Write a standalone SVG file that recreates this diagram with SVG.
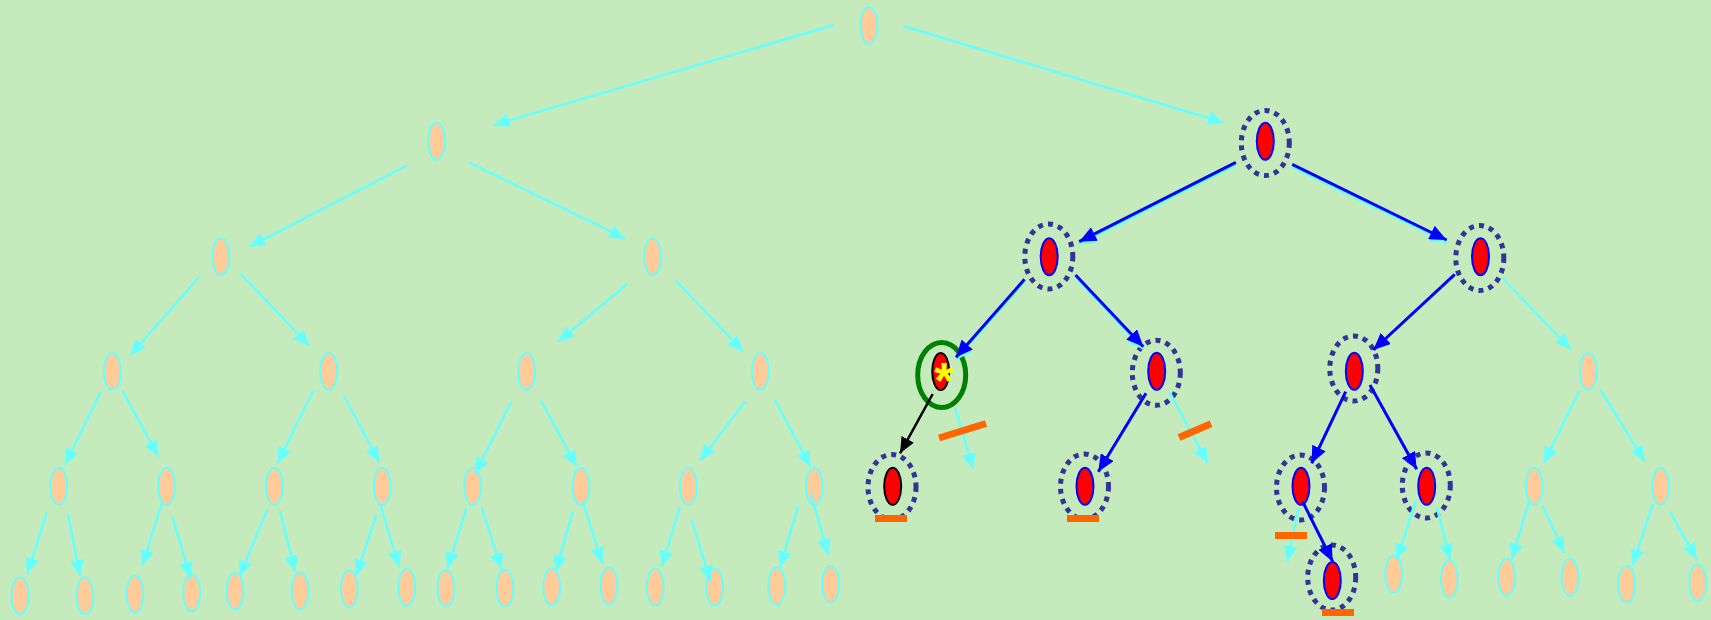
<svg xmlns="http://www.w3.org/2000/svg" width="1711" height="620" viewBox="0 0 1711 620">
<style>
.bg{fill:#c5ebbc}
.n{fill:#ffcc99;stroke:#66ffff;stroke-width:2}
.r{fill:#ff0000;stroke:#0000ff;stroke-width:2}
.rk{fill:#ff0000;stroke:#000000;stroke-width:2}
.ring{fill:none;stroke:#333399;stroke-width:5;stroke-dasharray:5 5.2}
.gring{fill:none;stroke:#008000;stroke-width:5}
.c{stroke:#66ffff;stroke-width:2.5;fill:none;marker-end:url(#ac)}
.b{stroke:#0000ff;stroke-width:3;fill:none;marker-end:url(#ab)}
.k{stroke:#000000;stroke-width:2.5;fill:none;marker-end:url(#ak)}
.bar{fill:#ff6600}
.barl{stroke:#ff6600;stroke-width:7}
.star{fill:#ffff00;font-family:"Liberation Sans",Arial,sans-serif;font-weight:bold;font-size:50px}
</style>
<defs>
<marker id="ac" markerUnits="userSpaceOnUse" markerWidth="16" markerHeight="14" refX="16" refY="7" orient="auto"><path d="M0,0 L16,7 L0,14 z" fill="#66ffff"/></marker>
<marker id="ab" markerUnits="userSpaceOnUse" markerWidth="17" markerHeight="15" refX="17" refY="7.5" orient="auto"><path d="M0,0 L17,7.5 L0,15 z" fill="#0000ff"/></marker>
<marker id="ak" markerUnits="userSpaceOnUse" markerWidth="16" markerHeight="14" refX="16" refY="7" orient="auto"><path d="M0,0 L16,7 L0,14 z" fill="#000000"/></marker>
</defs>
<rect class="bg" x="0" y="0" width="1711" height="620"/>

<g id="nodes">
<g id="n0"><ellipse class="n" cx="869" cy="25.5" rx="8.5" ry="18.5"/></g>
<g id="n1"><ellipse class="n" cx="436.7" cy="141.3" rx="8.5" ry="18.5"/></g>
<g id="n2"><ellipse class="r" cx="1265.3" cy="141.3" rx="8.5" ry="18.5"/><ellipse class="ring" cx="1265.3" cy="143" rx="24" ry="32.5"/></g>
<g id="n3"><ellipse class="n" cx="220.9" cy="256.7" rx="8.5" ry="18.5"/></g>
<g id="n4"><ellipse class="n" cx="652.6" cy="256.7" rx="8.5" ry="18.5"/></g>
<g id="n5"><ellipse class="r" cx="1049.2" cy="256.7" rx="8.5" ry="18.5"/><ellipse class="ring" cx="1048.8" cy="256.5" rx="24" ry="32.5"/></g>
<g id="n6"><ellipse class="r" cx="1480.5" cy="256.7" rx="8.5" ry="18.5"/><ellipse class="ring" cx="1479.8" cy="258" rx="24" ry="32.5"/></g>

<g id="n7"><ellipse class="n" cx="112.3" cy="371.3" rx="8.5" ry="18.5"/></g>
<g id="n8"><ellipse class="n" cx="328.7" cy="371.3" rx="8.5" ry="18.5"/></g>
<g id="n9"><ellipse class="n" cx="526.7" cy="371.3" rx="8.5" ry="18.5"/></g>
<g id="n10"><ellipse class="n" cx="760.3" cy="371.3" rx="8.5" ry="18.5"/></g>
<g id="n11"><ellipse class="rk" cx="940.7" cy="371.5" rx="8.5" ry="18.5"/><ellipse class="gring" cx="941.7" cy="375" rx="24" ry="32.5"/><text class="star" x="944" y="397.5" text-anchor="middle">*</text></g>
<g id="n12"><ellipse class="r" cx="1156.7" cy="371.3" rx="8.5" ry="18.5"/><ellipse class="ring" cx="1156.3" cy="372.8" rx="24" ry="32.5"/></g>
<g id="n13"><ellipse class="r" cx="1354.3" cy="371.3" rx="8.5" ry="18.5"/><ellipse class="ring" cx="1353.8" cy="368.5" rx="24" ry="32.5"/></g>
<g id="n14"><ellipse class="n" cx="1588.3" cy="371.3" rx="8.5" ry="18.5"/></g>

<g id="n15"><ellipse class="n" cx="58.7" cy="486.3" rx="8.5" ry="18.5"/></g>
<g id="n16"><ellipse class="n" cx="166.7" cy="486.3" rx="8.5" ry="18.5"/></g>
<g id="n17"><ellipse class="n" cx="274.3" cy="486.3" rx="8.5" ry="18.5"/></g>
<g id="n18"><ellipse class="n" cx="382.3" cy="486.3" rx="8.5" ry="18.5"/></g>
<g id="n19"><ellipse class="n" cx="472.7" cy="486.3" rx="8.5" ry="18.5"/></g>
<g id="n20"><ellipse class="n" cx="581" cy="486.3" rx="8.5" ry="18.5"/></g>
<g id="n21"><ellipse class="n" cx="688.3" cy="486.3" rx="8.5" ry="18.5"/></g>
<g id="n22"><ellipse class="n" cx="814.3" cy="486.3" rx="8.5" ry="18.5"/></g>
<g id="n23"><ellipse class="rk" cx="892.7" cy="486.3" rx="8.5" ry="18.5"/><ellipse class="ring" cx="892" cy="487" rx="24" ry="32.5"/></g>
<g id="n24"><ellipse class="r" cx="1085" cy="486.3" rx="8.5" ry="18.5"/><ellipse class="ring" cx="1084.5" cy="486.5" rx="24" ry="32.5"/></g>
<g id="n25"><ellipse class="r" cx="1301" cy="486.3" rx="8.5" ry="18.5"/><ellipse class="ring" cx="1300.5" cy="487.5" rx="24" ry="32.5"/></g>
<g id="n26"><ellipse class="r" cx="1426.7" cy="486.3" rx="8.5" ry="18.5"/><ellipse class="ring" cx="1426.3" cy="485.5" rx="24" ry="32.5"/></g>
<g id="n27"><ellipse class="n" cx="1534.3" cy="486.3" rx="8.5" ry="18.5"/></g>
<g id="n28"><ellipse class="n" cx="1660.7" cy="486.3" rx="8.5" ry="18.5"/></g>

<g id="n29"><ellipse class="n" cx="20" cy="595.7" rx="8.5" ry="18.5"/></g>
<g id="n30"><ellipse class="n" cx="85" cy="595.7" rx="8.5" ry="18.5"/></g>
<g id="n31"><ellipse class="n" cx="135" cy="594" rx="8.5" ry="18.5"/></g>
<g id="n32"><ellipse class="n" cx="191.7" cy="592.7" rx="8.5" ry="18.5"/></g>
<g id="n33"><ellipse class="n" cx="235" cy="591" rx="8.5" ry="18.5"/></g>
<g id="n34"><ellipse class="n" cx="300" cy="591" rx="8.5" ry="18.5"/></g>
<g id="n35"><ellipse class="n" cx="349.3" cy="589" rx="8.5" ry="18.5"/></g>
<g id="n36"><ellipse class="n" cx="406.7" cy="587.3" rx="8.5" ry="18.5"/></g>
<g id="n37"><ellipse class="n" cx="446" cy="588.3" rx="8.5" ry="18.5"/></g>
<g id="n38"><ellipse class="n" cx="505" cy="588.3" rx="8.5" ry="18.5"/></g>
<g id="n39"><ellipse class="n" cx="551.7" cy="586.7" rx="8.5" ry="18.5"/></g>
<g id="n40"><ellipse class="n" cx="609" cy="586" rx="8.5" ry="18.5"/></g>
<g id="n41"><ellipse class="n" cx="655.3" cy="587.3" rx="8.5" ry="18.5"/></g>
<g id="n42"><ellipse class="n" cx="714.7" cy="587.3" rx="8.5" ry="18.5"/></g>
<g id="n43"><ellipse class="n" cx="776.7" cy="586" rx="8.5" ry="18.5"/></g>
<g id="n44"><ellipse class="n" cx="830.7" cy="584.3" rx="8.5" ry="18.5"/></g>
<g id="n45"><ellipse class="r" cx="1332.3" cy="580.5" rx="8.5" ry="18.5"/><ellipse class="ring" cx="1331.7" cy="577.5" rx="24" ry="32.5"/></g>
<g id="n46"><ellipse class="n" cx="1393.7" cy="574" rx="8.5" ry="18.5"/></g>
<g id="n47"><ellipse class="n" cx="1449.3" cy="579" rx="8.5" ry="18.5"/></g>
<g id="n48"><ellipse class="n" cx="1506.7" cy="577.3" rx="8.5" ry="18.5"/></g>
<g id="n49"><ellipse class="n" cx="1570" cy="577.3" rx="8.5" ry="18.5"/></g>
<g id="n50"><ellipse class="n" cx="1626.7" cy="584.3" rx="8.5" ry="18.5"/></g>
<g id="n51"><ellipse class="n" cx="1697.7" cy="582.7" rx="8.5" ry="18.5"/></g>
</g>

<g id="connectors">
<line class="c" x1="834" y1="25" x2="493.3" y2="125"/>
<line class="c" x1="903.3" y1="26" x2="1224" y2="122.7"/>
<line class="c" x1="406.8" y1="165.7" x2="249.2" y2="246.7"/>
<line class="c" x1="468.9" y1="162.3" x2="625.4" y2="238.7"/>
<g transform="translate(0,2.5)">
<line class="c" x1="1235.9" y1="162.3" x2="1079.2" y2="241.7"/>
<line class="c" x1="1292.2" y1="164.3" x2="1446.7" y2="240"/>
<line class="c" x1="1075.5" y1="275" x2="1143.3" y2="346.7"/>
<line class="c" x1="1024.5" y1="279.3" x2="956" y2="357.3"/>
</g>
<line class="b" x1="1235.9" y1="162.3" x2="1079.2" y2="241.7"/>
<line class="b" x1="1292.2" y1="164.3" x2="1446.7" y2="240"/>
<line class="c" x1="199.5" y1="276.5" x2="130" y2="355.5"/>
<line class="c" x1="240.8" y1="274" x2="309.5" y2="346"/>
<line class="c" x1="627.5" y1="284" x2="558" y2="341.7"/>
<line class="c" x1="675.4" y1="280" x2="743.3" y2="351.7"/>
<line class="b" x1="1024.5" y1="279.3" x2="956" y2="357.3"/>
<line class="b" x1="1075.5" y1="275" x2="1143.3" y2="346.7"/>
<line class="b" x1="1454.8" y1="274.3" x2="1373.3" y2="350"/>
<line class="c" x1="1502.5" y1="278" x2="1570.7" y2="349.3"/>

<line class="c" x1="100.7" y1="391.7" x2="65" y2="465"/>
<line class="c" x1="122.3" y1="390.3" x2="158.3" y2="456.7"/>
<line class="c" x1="313.3" y1="390.3" x2="277.7" y2="463.3"/>
<line class="c" x1="344" y1="396" x2="379.3" y2="462.3"/>
<line class="c" x1="511" y1="402.3" x2="475" y2="474"/>
<line class="c" x1="541" y1="400.7" x2="576.7" y2="466.7"/>
<line class="c" x1="745" y1="401.7" x2="700" y2="460.7"/>
<line class="c" x1="775" y1="400" x2="810.7" y2="466.7"/>
<line class="k" x1="932.7" y1="394" x2="900" y2="453.3"/>
<line class="c" x1="955" y1="407.3" x2="973.3" y2="469.3"/>
<line class="b" x1="1146" y1="393.3" x2="1098.3" y2="471.7"/>
<line class="c" x1="1169.3" y1="391.7" x2="1207.7" y2="463.3"/>
<line class="b" x1="1345.7" y1="391.7" x2="1311.7" y2="463.3"/>
<line class="b" x1="1370" y1="385" x2="1416.7" y2="469.3"/>
<line class="c" x1="1579.3" y1="391" x2="1544" y2="463"/>
<line class="c" x1="1600.7" y1="390" x2="1645" y2="461.7"/>

<line class="c" x1="46.7" y1="512.7" x2="27.3" y2="574"/>
<line class="c" x1="68" y1="514" x2="80" y2="576"/>
<line class="c" x1="161.7" y1="503.3" x2="142.3" y2="566"/>
<line class="c" x1="172.3" y1="516.7" x2="190.7" y2="578.3"/>
<line class="c" x1="267.3" y1="509.3" x2="239.3" y2="576.7"/>
<line class="c" x1="280" y1="511" x2="295" y2="571.7"/>
<line class="c" x1="376.7" y1="514" x2="356" y2="575.7"/>
<line class="c" x1="380.7" y1="505.7" x2="399.3" y2="567.3"/>
<line class="c" x1="466.7" y1="507.7" x2="447.3" y2="568.3"/>
<line class="c" x1="481.7" y1="507.7" x2="501.7" y2="569.3"/>
<line class="c" x1="572.7" y1="511.7" x2="555.7" y2="571.7"/>
<line class="c" x1="582.7" y1="501.7" x2="602.3" y2="563.3"/>
<line class="c" x1="680" y1="506.7" x2="661.7" y2="566.7"/>
<line class="c" x1="691.7" y1="520" x2="710.7" y2="581.7"/>
<line class="c" x1="798.3" y1="506" x2="780" y2="567.3"/>
<line class="c" x1="810.7" y1="493.3" x2="828.3" y2="555"/>
<line class="c" x1="1298.3" y1="508.3" x2="1287.3" y2="561.7"/>
<line class="b" x1="1302.7" y1="501.7" x2="1332.7" y2="561.7"/>
<line class="c" x1="1415.7" y1="500.7" x2="1396.7" y2="560"/>
<line class="c" x1="1436.7" y1="506.7" x2="1450" y2="560"/>
<line class="c" x1="1530" y1="498.3" x2="1511.7" y2="559.3"/>
<line class="c" x1="1542.7" y1="505.7" x2="1564.3" y2="552.7"/>
<line class="c" x1="1652.7" y1="504.3" x2="1632.7" y2="565"/>
<line class="c" x1="1670" y1="511.7" x2="1696.7" y2="559.3"/>
</g>

<g id="cuts">
<line class="barl" x1="939" y1="438" x2="986" y2="423.5"/>
<line class="barl" x1="1179" y1="437.5" x2="1211" y2="423.7"/>
<rect class="bar" x="875" y="515" width="32" height="7"/>
<rect class="bar" x="1067" y="515" width="32" height="7"/>
<rect class="bar" x="1275" y="532" width="32" height="7"/>
<rect class="bar" x="1322" y="609" width="32" height="7"/>
</g>
</svg>
